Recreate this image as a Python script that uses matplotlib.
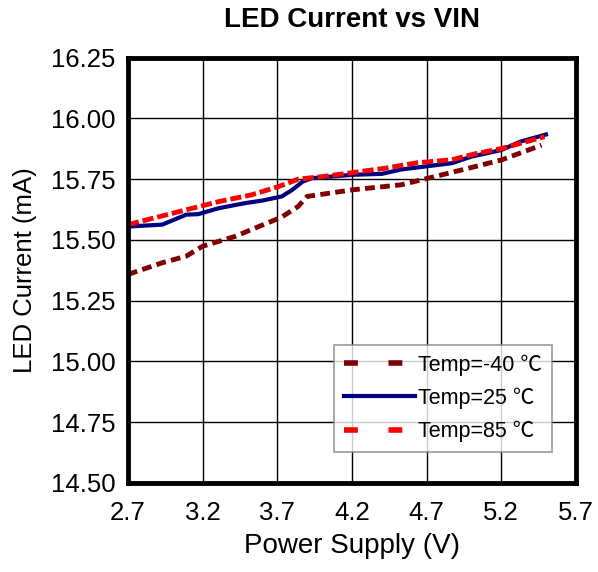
import matplotlib
matplotlib.use("Agg")
import matplotlib.pyplot as plt

plt.rcParams['font.family'] = ['Liberation Sans', 'Noto Sans CJK SC', 'DejaVu Sans']

# Temp = -40 C
v_m40 = [2.70, 2.93, 3.09, 3.20, 3.42, 3.58, 3.73, 3.84, 3.90, 4.20, 4.53, 4.71, 4.98, 5.20, 5.47]
i_m40 = [15.358, 15.406, 15.433, 15.474, 15.515, 15.556, 15.594, 15.638, 15.679, 15.706, 15.727, 15.754, 15.795, 15.829, 15.890]

# Temp = 25 C
v_25 = [2.70, 2.93, 3.09, 3.17, 3.31, 3.49, 3.60, 3.73, 3.80, 3.87, 3.93, 4.20, 4.40, 4.53, 4.87, 5.00, 5.20, 5.33, 5.50]
i_25 = [15.555, 15.563, 15.604, 15.606, 15.631, 15.652, 15.662, 15.679, 15.706, 15.740, 15.754, 15.768, 15.772, 15.790, 15.816, 15.843, 15.870, 15.905, 15.934]

# Temp = 85 C
v_85 = [2.70, 3.09, 3.31, 3.53, 3.71, 3.84, 4.02, 4.20, 4.42, 4.64, 4.87, 5.02, 5.20, 5.49]
i_85 = [15.563, 15.624, 15.658, 15.686, 15.720, 15.750, 15.762, 15.777, 15.795, 15.818, 15.830, 15.854, 15.876, 15.925]

xticks = [2.7, 3.2, 3.7, 4.2, 4.7, 5.2, 5.7]
yticks = [14.50, 14.75, 15.00, 15.25, 15.50, 15.75, 16.00, 16.25]
labels = ['Temp=-40 ℃', 'Temp=25 ℃', 'Temp=85 ℃']

fig = plt.figure(figsize=(5.98, 5.72), dpi=100)
ax = fig.add_axes([0.214, 0.156, 0.749, 0.743])

l1, = ax.plot(v_m40, i_m40, color='#800000', lw=3.5, ls=(0, (2, 1.1)), label=labels[0])
l2, = ax.plot(v_25, i_25, color='#000080', lw=3, label=labels[1])
l3, = ax.plot(v_85, i_85, color='#ff0000', lw=3.5, ls=(0, (2.3, 0.8)), label=labels[2])

ax.set_xlim(2.7, 5.7)
ax.set_ylim(14.5, 16.25)
ax.set_xticks(xticks)
ax.set_xticklabels([f'{t:.1f}' for t in xticks])
ax.set_yticks(yticks)
ax.set_yticklabels([f'{t:.2f}' for t in yticks])
ax.tick_params(length=0, labelsize=18.5)
ax.tick_params(axis='x', pad=13)
ax.tick_params(axis='y', pad=9)
ax.grid(True, color='black', lw=1)
ax.set_axisbelow(True)
for s in ax.spines.values():
    s.set_linewidth(3.5)

ax.set_xlabel('Power Supply (V)', fontsize=20, labelpad=6)
ax.set_ylabel('LED Current (mA)', fontsize=18.5, labelpad=10)
ax.set_title('LED Current vs VIN', fontsize=20, fontweight='bold', pad=22)

# legend handles use a coarser dash than the plotted lines
h1, = ax.plot([], [], color='#800000', lw=4, ls=(0, (2.5, 5.5)))
h2, = ax.plot([], [], color='#000080', lw=3)
h3, = ax.plot([], [], color='#ff0000', lw=4, ls=(0, (2.5, 5.5)))
leg = ax.legend(handles=[h1, h2, h3], labels=labels, loc='lower right',
                bbox_to_anchor=(0.946, 0.073),
                fontsize=15.5, frameon=True, fancybox=False, edgecolor='#808080',
                handlelength=3.3, handletextpad=0.15, borderpad=0.45, labelspacing=0.55,
                borderaxespad=0)
leg.get_frame().set_linewidth(1.2)

fig.savefig('out.png', dpi=100)
